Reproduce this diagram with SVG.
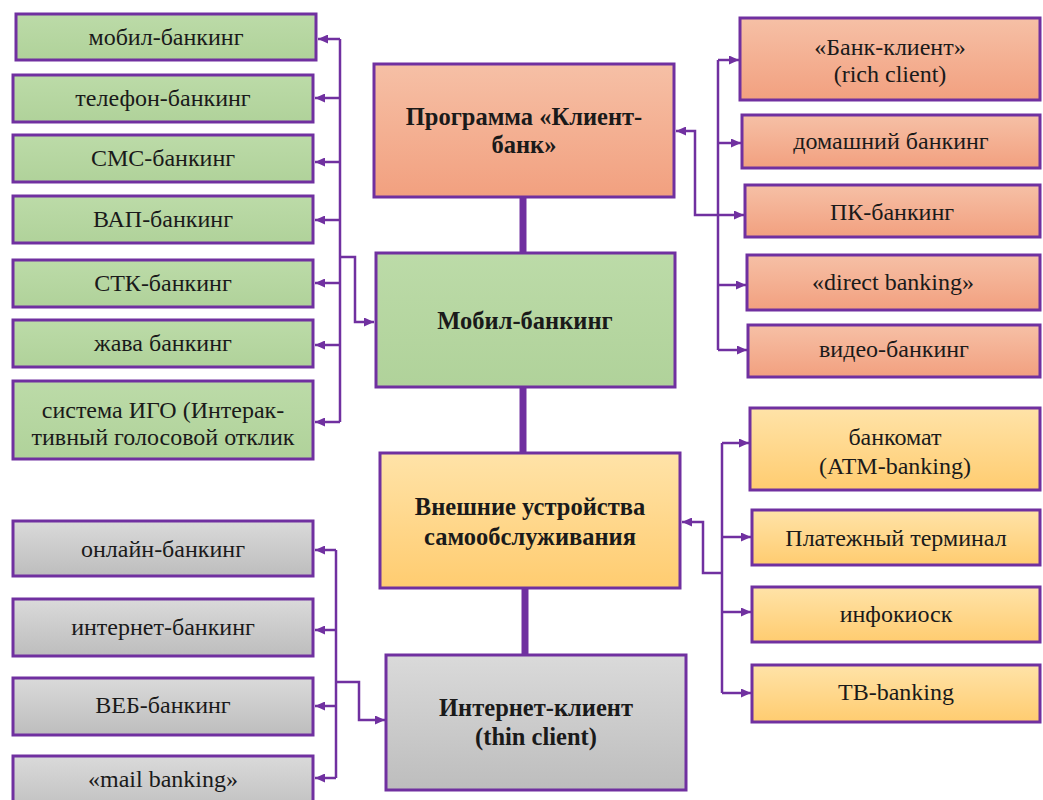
<svg xmlns="http://www.w3.org/2000/svg" width="1043" height="800" viewBox="0 0 1043 800">
<style>
.box{stroke:#7030A0;stroke-width:3}
.g{fill:url(#gGreen)}
.o{fill:url(#gOrange)}
.y{fill:url(#gYellow)}
.s{fill:url(#gGray)}
text{font-family:'Liberation Serif','Times New Roman',serif;font-size:24px;fill:#1a1a1a;text-anchor:middle}
.b{font-weight:bold;font-size:24.5px}
.c{fill:none;stroke:#7030A0;stroke-width:2.5}
.t{fill:none;stroke:#7030A0;stroke-width:7}
</style>
<defs>
<linearGradient id="gGreen" x1="0" y1="0" x2="0" y2="1"><stop offset="0" stop-color="#BCDBA8"/><stop offset="1" stop-color="#B0D29A"/></linearGradient>
<linearGradient id="gOrange" x1="0" y1="0" x2="0" y2="1"><stop offset="0" stop-color="#F6C0A6"/><stop offset="1" stop-color="#F2A07F"/></linearGradient>
<linearGradient id="gYellow" x1="0" y1="0" x2="0" y2="1"><stop offset="0" stop-color="#FFE3A8"/><stop offset="1" stop-color="#FFCC70"/></linearGradient>
<linearGradient id="gGray" x1="0" y1="0" x2="0" y2="1"><stop offset="0" stop-color="#DADADA"/><stop offset="1" stop-color="#BDBDBD"/></linearGradient>
<marker id="arr" markerUnits="userSpaceOnUse" markerWidth="11" markerHeight="9" refX="10" refY="4.5" orient="auto"><path d="M0,0 L10,4.5 L0,9 z" fill="#7030A0"/></marker>
</defs>

<g id="connectors">
<path class="t" d="M523,197 V253"/>
<path class="t" d="M523,387 V453"/>
<path class="t" d="M525,588 V655"/>
<path class="c" d="M340,39 V422"/>
<path class="c" d="M340,39 H318" marker-end="url(#arr)"/>
<path class="c" d="M340,98 H315" marker-end="url(#arr)"/>
<path class="c" d="M340,162 H315" marker-end="url(#arr)"/>
<path class="c" d="M340,220 H315" marker-end="url(#arr)"/>
<path class="c" d="M340,283 H315" marker-end="url(#arr)"/>
<path class="c" d="M340,345 H315" marker-end="url(#arr)"/>
<path class="c" d="M340,422 H315" marker-end="url(#arr)"/>
<path class="c" d="M340,257 H355 V322 H374" marker-end="url(#arr)"/>
<path class="c" d="M718,60 V350"/>
<path class="c" d="M718,60 H739" marker-end="url(#arr)"/>
<path class="c" d="M718,143 H741" marker-end="url(#arr)"/>
<path class="c" d="M718,215 H744" marker-end="url(#arr)"/>
<path class="c" d="M718,285 H746" marker-end="url(#arr)"/>
<path class="c" d="M718,350 H747" marker-end="url(#arr)"/>
<path class="c" d="M718,215 H695 V131 H676" marker-end="url(#arr)"/>
<path class="c" d="M722,443 V693"/>
<path class="c" d="M722,443 H749" marker-end="url(#arr)"/>
<path class="c" d="M722,537 H751" marker-end="url(#arr)"/>
<path class="c" d="M722,612 H751" marker-end="url(#arr)"/>
<path class="c" d="M722,693 H751" marker-end="url(#arr)"/>
<path class="c" d="M722,573 H703 V522 H682" marker-end="url(#arr)"/>
<path class="c" d="M336,550 V778"/>
<path class="c" d="M336,550 H315" marker-end="url(#arr)"/>
<path class="c" d="M336,630 H315" marker-end="url(#arr)"/>
<path class="c" d="M336,706 H315" marker-end="url(#arr)"/>
<path class="c" d="M336,778 H315" marker-end="url(#arr)"/>
<path class="c" d="M336,682 H359 V720 H385" marker-end="url(#arr)"/>
</g>

<g id="n-program"><rect class="box o" x="374" y="64" width="300" height="133"/><text class="b" x="524" y="125">Программа «Клиент-</text><text class="b" x="524" y="153">банк»</text></g>
<g id="n-mobile"><rect class="box g" x="376" y="253" width="299" height="134"/><text class="b" x="525" y="329">Мобил-банкинг</text></g>
<g id="n-self"><rect class="box y" x="380" y="453" width="300" height="135"/><text class="b" x="530" y="515">Внешние устройства</text><text class="b" x="530" y="545">самообслуживания</text></g>
<g id="n-internet"><rect class="box s" x="386" y="655" width="300" height="135"/><text class="b" x="536" y="716">Интернет-клиент</text><text class="b" x="536" y="745">(thin client)</text></g>

<g id="l1"><rect class="box g" x="16" y="14" width="300" height="46"/><text x="166" y="45">мобил-банкинг</text></g>
<g id="l2"><rect class="box g" x="13" y="75" width="300" height="47"/><text x="163" y="106">телефон-банкинг</text></g>
<g id="l3"><rect class="box g" x="13" y="135" width="300" height="47"/><text x="163" y="166">СМС-банкинг</text></g>
<g id="l4"><rect class="box g" x="13" y="196" width="300" height="47"/><text x="163" y="227">ВАП-банкинг</text></g>
<g id="l5"><rect class="box g" x="13" y="260" width="300" height="47"/><text x="163" y="291">СТК-банкинг</text></g>
<g id="l6"><rect class="box g" x="13" y="320" width="300" height="47"/><text x="163" y="351">жава банкинг</text></g>
<g id="l7"><rect class="box g" x="13" y="381" width="300" height="78"/><text x="163" y="418">система ИГО (Интерак-</text><text x="163" y="445">тивный голосовой отклик</text></g>

<g id="r1"><rect class="box o" x="740" y="18" width="300" height="82"/><text x="890" y="55">«Банк-клиент»</text><text x="890" y="82">(rich client)</text></g>
<g id="r2"><rect class="box o" x="742" y="115" width="298" height="53"/><text x="891" y="149">домашний банкинг</text></g>
<g id="r3"><rect class="box o" x="745" y="185" width="295" height="52"/><text x="892" y="220">ПК-банкинг</text></g>
<g id="r4"><rect class="box o" x="747" y="255" width="293" height="55"/><text x="893" y="290">«direct banking»</text></g>
<g id="r5"><rect class="box o" x="748" y="325" width="292" height="52"/><text x="894" y="357">видео-банкинг</text></g>

<g id="y1"><rect class="box y" x="750" y="408" width="290" height="82"/><text x="895" y="445">банкомат</text><text x="895" y="474">(ATM-banking)</text></g>
<g id="y2"><rect class="box y" x="752" y="510" width="288" height="55"/><text x="896" y="546">Платежный терминал</text></g>
<g id="y3"><rect class="box y" x="752" y="587" width="288" height="55"/><text x="896" y="622">инфокиоск</text></g>
<g id="y4"><rect class="box y" x="752" y="665" width="288" height="57"/><text x="896" y="700">TB-banking</text></g>

<g id="g1"><rect class="box s" x="13" y="521" width="300" height="55"/><text x="163" y="557">онлайн-банкинг</text></g>
<g id="g2"><rect class="box s" x="13" y="599" width="300" height="57"/><text x="163" y="635">интернет-банкинг</text></g>
<g id="g3"><rect class="box s" x="13" y="678" width="300" height="57"/><text x="163" y="713">ВЕБ-банкинг</text></g>
<g id="g4"><rect class="box s" x="13" y="756" width="300" height="60"/><text x="163" y="787">«mail banking»</text></g>
</svg>
